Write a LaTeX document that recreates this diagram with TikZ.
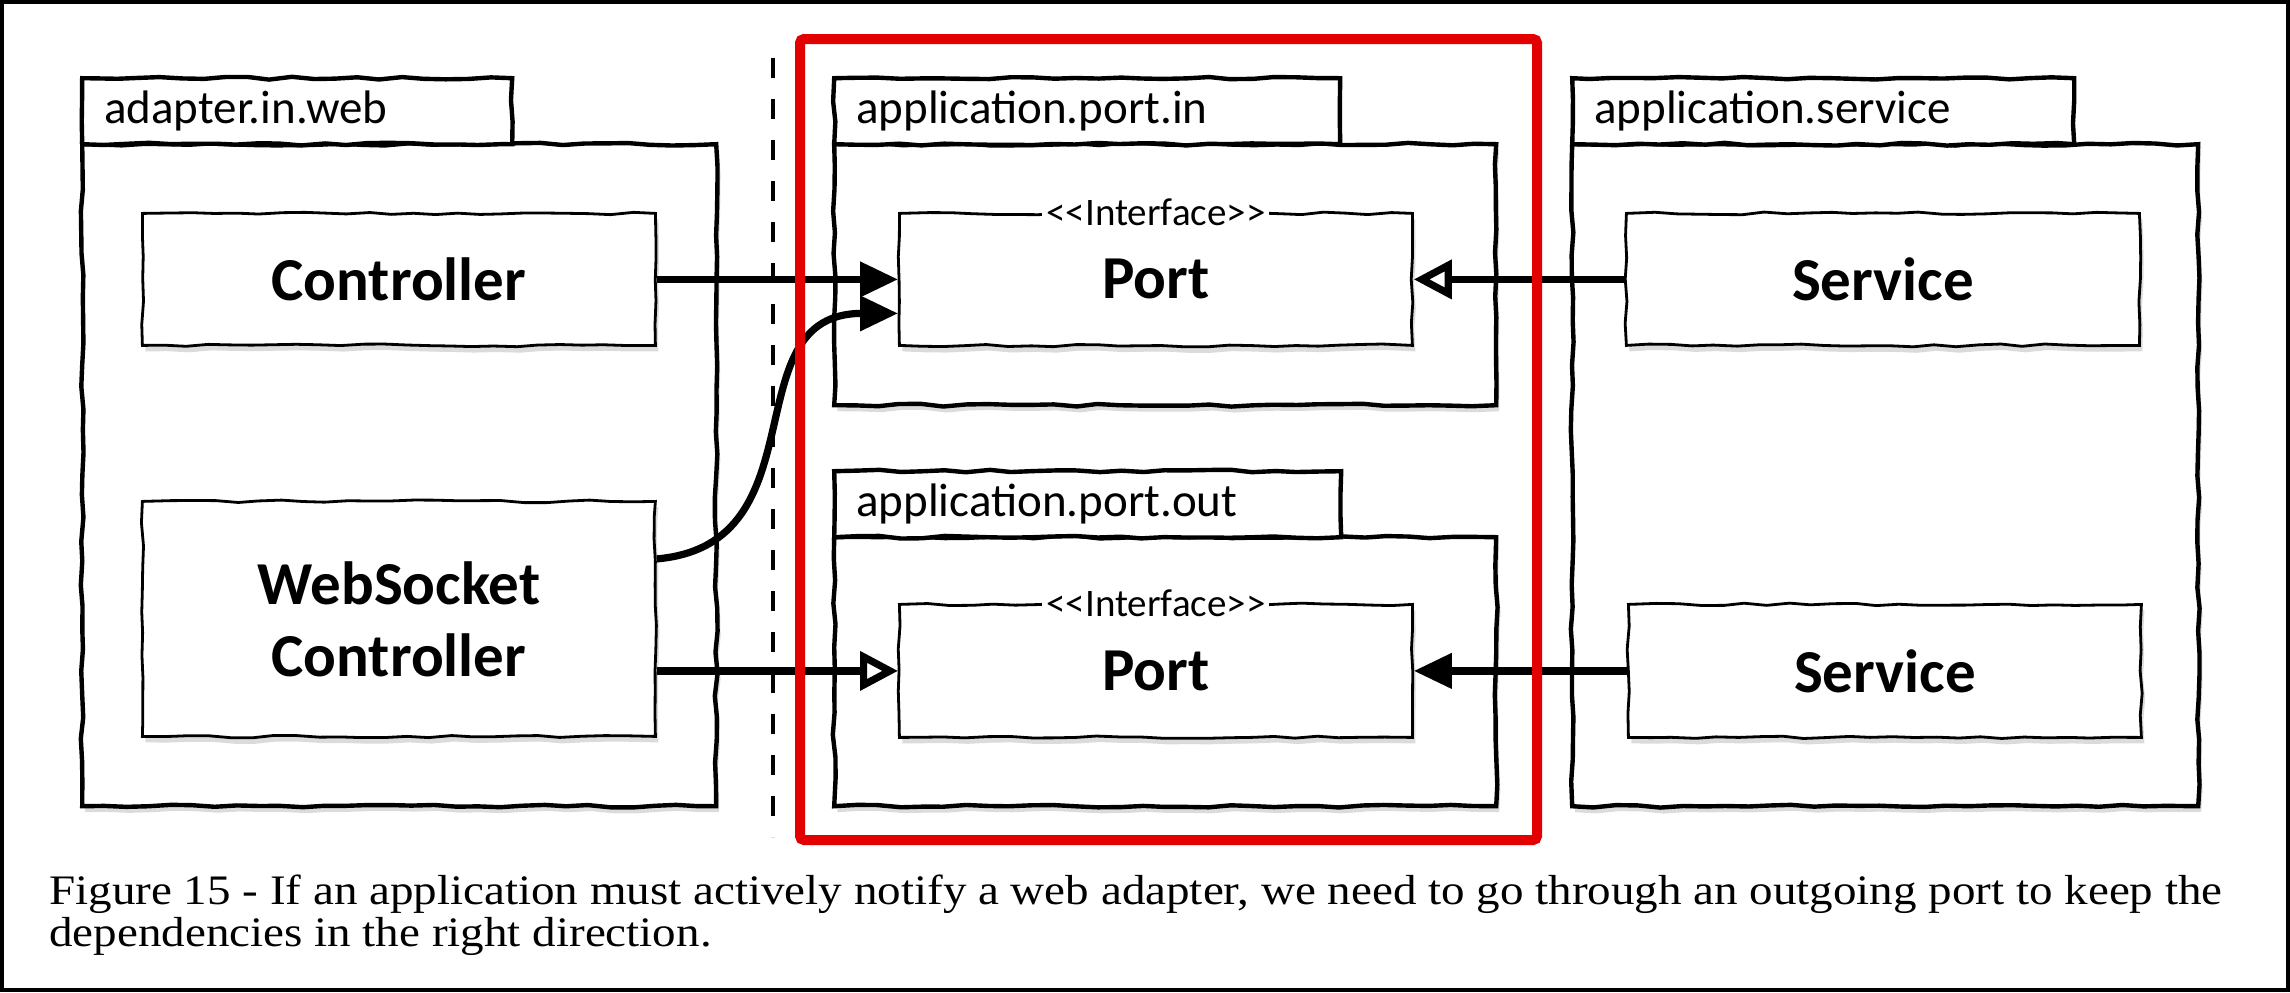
\documentclass[tikz,border=0pt]{standalone}
\usepackage{fontspec}
\usepackage{graphicx}
\setmainfont{Liberation Serif}
\newfontfamily\sketchfont{Carlito}
\usetikzlibrary{arrows.meta, decorations.pathmorphing, shadows}
\definecolor{boxred}{RGB}{226,0,0}
\tikzset{
  sketch/.style={decorate, decoration={random steps, segment length=11pt, amplitude=0.7pt}},
  pkg/.style={sketch, draw=black, line width=2.2pt, fill=white, anchor=north west, inner sep=0pt},
  pkgbody/.style={pkg, drop shadow={shadow xshift=1.5pt, shadow yshift=-3pt, fill=black!40, opacity=0.35}},
  pkgtab/.style={pkg, minimum height=33pt, inner xsep=11pt, text width=#1, align=left, font=\sketchfont\fontsize{23.5}{28}\selectfont},
  cls/.style={sketch, draw=black, line width=1.4pt, fill=white, anchor=north west, minimum width=256.5pt, minimum height=66pt, align=center, font=\sketchfont\bfseries\fontsize{30.5}{36}\selectfont, drop shadow={shadow xshift=1.5pt, shadow yshift=-3pt, fill=black!40, opacity=0.35}},
  stereo/.style={fill=white, inner xsep=2pt, inner ysep=0pt, font=\sketchfont\fontsize{19.5}{21}\selectfont},
  uses/.style={line width=3.6pt, -{Triangle[length=19pt, width=17pt]}},
  impl/.style={line width=3.6pt, -{Triangle[open, length=19pt, width=19pt, fill=white]}},
  figcap/.style={anchor=base west, inner sep=0pt, font=\fontsize{21}{22}\selectfont}
}
\begin{document}
\begin{tikzpicture}[x=0.5pt, y=-0.5pt]
  \pgfmathsetseed{7}
  \useasboundingbox (0,0) rectangle (2290,992);
  \draw[line width=2pt] (2,2) rectangle (2288,990);

  % packages
  \node[pkgbody, minimum width=317pt, minimum height=331pt] (webbody) at (80,142) {};
  \node[pkgtab=193pt] (webtab) at (80,76) {adapter.in.web};
  \node[pkgbody, minimum width=331pt, minimum height=130.5pt] (inbody) at (832,142) {};
  \node[pkgtab=231pt] (intab) at (832,76) {application.port.in};
  \node[pkgbody, minimum width=331pt, minimum height=134.5pt] (outbody) at (832,535) {};
  \node[pkgtab=231.5pt] (outtab) at (832,469) {application.port.out};
  \node[pkgbody, minimum width=313pt, minimum height=331pt] (svcbody) at (1570,142) {};
  \node[pkgtab=229pt] (svctab) at (1570,76) {application.service};

  % classes
  \node[cls] (ctrl) at (141,212) {Controller};
  \node[cls, minimum height=117.5pt] (ws) at (141,500) {WebSocket\\Controller};
  \node[cls] (portin) at (898,212) {Port};
  \node[stereo] (portintag) at (portin.north) {<{}<Interface>{}>};
  \node[cls, minimum height=66.5pt] (portout) at (898,603) {Port};
  \node[stereo] (portouttag) at (portout.north) {<{}<Interface>{}>};
  \node[cls] (svcin) at (1625,212) {Service};
  \node[cls, minimum height=66.5pt] (svcout) at (1627,603) {Service};

  % dependencies
  \draw[uses] (ctrl.east) -- (portin.west);
  \draw[uses] ([yshift=30pt]ws.east) to[out=5, in=180, looseness=1.25] ([yshift=-17pt]portin.west);
  \draw[impl] (ws.east |- portout.west) -- (portout.west);
  \draw[impl] (svcin.west) -- (portin.east);
  \draw[uses] (svcout.west) -- (portout.east);

  \draw[line width=1.8pt, dash pattern=on 10pt off 10.5pt] (773,58) -- (773,837);
  \draw[boxred, line width=5pt, rounded corners=2pt] (800,39) rectangle (1537,840);

  \node[figcap] (cap1) at (49,904) {\scalebox{1.12}[1]{Figure 15 - If an application must actively notify a web adapter, we need to go through an outgoing port to keep the}};
  \node[figcap] (cap2) at (49,946) {\scalebox{1.12}[1]{dependencies in the right direction.}};
\end{tikzpicture}
\end{document}
